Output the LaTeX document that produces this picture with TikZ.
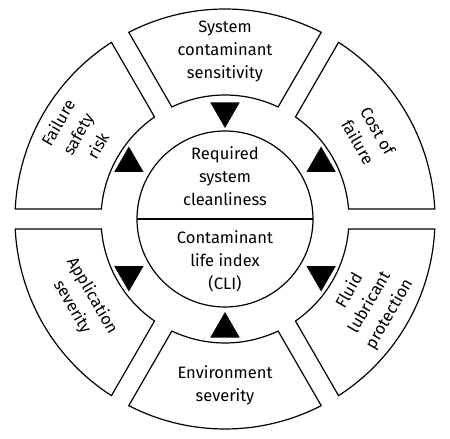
\documentclass[tikz,border=0pt]{standalone}
\usepackage{fontspec}
\setmainfont{Fira Sans}
\usetikzlibrary{shapes.geometric}

\begin{document}
\begin{tikzpicture}[
  x=1pt, y=1pt,
  font=\fontsize{16.5}{23}\selectfont,
  seg/.style  ={draw=black, line width=1.2pt, fill=white},
  core/.style ={draw=black, line width=1.2pt},
  lbl/.style  ={align=center, inner sep=1pt},
  tri/.style  ={regular polygon, regular polygon sides=3, fill=black,
                minimum size=34pt, inner sep=0pt},
  tridown/.style={tri, shape border rotate=180},
]
\useasboundingbox (-225,-220) rectangle (225,219);

% ---- outer ring, six segments ----
\draw[seg] (2.73:210) arc[start angle=2.73, end angle=57.27, radius=210]
  -- (55.37:124) arc[start angle=55.37, end angle=4.63, radius=124] -- cycle;
\draw[seg] (62.73:210) arc[start angle=62.73, end angle=117.27, radius=210]
  -- (115.37:124) arc[start angle=115.37, end angle=64.63, radius=124] -- cycle;
\draw[seg] (122.73:210) arc[start angle=122.73, end angle=177.27, radius=210]
  -- (175.37:124) arc[start angle=175.37, end angle=124.63, radius=124] -- cycle;
\draw[seg] (182.73:210) arc[start angle=182.73, end angle=237.27, radius=210]
  -- (235.37:124) arc[start angle=235.37, end angle=184.63, radius=124] -- cycle;
\draw[seg] (242.73:210) arc[start angle=242.73, end angle=297.27, radius=210]
  -- (295.37:124) arc[start angle=295.37, end angle=244.63, radius=124] -- cycle;
\draw[seg] (302.73:210) arc[start angle=302.73, end angle=357.27, radius=210]
  -- (355.37:124) arc[start angle=355.37, end angle=304.63, radius=124] -- cycle;

% ---- segment labels ----
\node[lbl]            (sys)  at (90:168)  {System\\contaminant\\sensitivity};
\node[lbl, rotate=-60] (cost) at (30:165)  {Cost of\\failure};
\node[lbl, rotate=60]  (risk) at (150:170) {Failure\\safety\\risk};
\node[lbl, rotate=-60] (app)  at (210:165) {Application\\severity};
\node[lbl, rotate=60]  (lub)  at (330:167) {Fluid\\lubricant\\protection};
\node[lbl]            (env)  at (270:166) {Environment\\severity};

% ---- centre circle ----
\draw[core] (0,0) circle[radius=88];
\draw[core] (180:88) -- (0:88);
\node[lbl] (req) at (0,43)  {Required\\system\\cleanliness};
\node[lbl] (cli) at (0,-42) {Contaminant\\life index\\(CLI)};

% ---- triangles ----
\node[tridown] (t1) at (90:108)  {};
\node[tri]     (t2) at (30:111)  {};
\node[tri]     (t3) at (150:111) {};
\node[tridown] (t4) at (210:111) {};
\node[tridown] (t5) at (330:111) {};
\node[tri]     (t6) at (270:110) {};

\end{tikzpicture}
\end{document}
